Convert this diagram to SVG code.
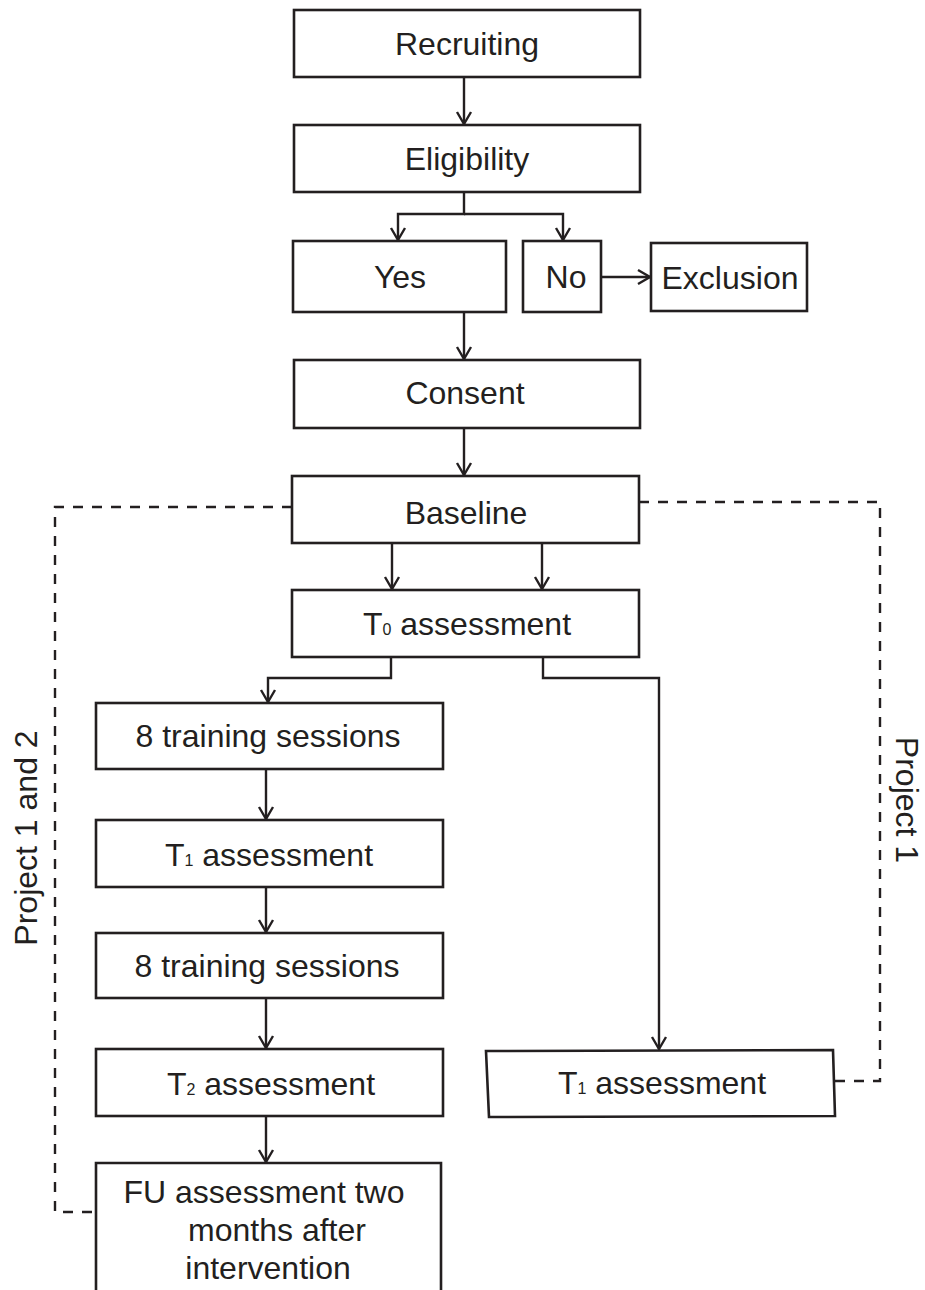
<svg xmlns="http://www.w3.org/2000/svg" width="925" height="1290" viewBox="0 0 925 1290">
<defs>
<style>
.box{fill:#fff;stroke:#231f20;stroke-width:2.6}
.t{font-family:"Liberation Sans",Arial,sans-serif;font-size:32px;fill:#231f20;text-anchor:middle}
.c{fill:none;stroke:#231f20;stroke-width:2.4}
.d{fill:none;stroke:#231f20;stroke-width:2.4;stroke-dasharray:10 9}
.sub{font-size:16px}
</style>
<marker id="a" markerUnits="userSpaceOnUse" markerWidth="18" markerHeight="18" viewBox="0 0 18 18" refX="16" refY="9" orient="auto">
<path d="M4,2 L16,9 L4,16" fill="none" stroke="#231f20" stroke-width="2.4"/>
</marker>
</defs>
<g id="connectors">
<path class="c" d="M464,77 V124" marker-end="url(#a)"/>
<path class="c" d="M464,192 V214 H398 V240" marker-end="url(#a)"/>
<path class="c" d="M464,214 H563 V240" marker-end="url(#a)"/>
<path class="c" d="M601,277 H650" marker-end="url(#a)"/>
<path class="c" d="M464,312 V359" marker-end="url(#a)"/>
<path class="c" d="M464,428 V475" marker-end="url(#a)"/>
<path class="c" d="M392,543 V589" marker-end="url(#a)"/>
<path class="c" d="M542,543 V589" marker-end="url(#a)"/>
<path class="c" d="M391,657 V678 H268 V702" marker-end="url(#a)"/>
<path class="c" d="M543,657 V678 H659 V1049" marker-end="url(#a)"/>
<path class="c" d="M266,769 V819" marker-end="url(#a)"/>
<path class="c" d="M266,887 V932" marker-end="url(#a)"/>
<path class="c" d="M266,998 V1048" marker-end="url(#a)"/>
<path class="c" d="M266,1116 V1162" marker-end="url(#a)"/>
<path class="d" d="M292,507 H55 V1212 H96"/>
<path class="d" d="M639,502 H880 V1081 H834"/>
</g>
<g id="recruiting"><rect class="box" x="294" y="10" width="346" height="67"/><text class="t" x="467" y="55">Recruiting</text></g>
<g id="eligibility"><rect class="box" x="294" y="125" width="346" height="67"/><text class="t" x="467" y="170">Eligibility</text></g>
<g id="yes"><rect class="box" x="293" y="241" width="213" height="71"/><text class="t" x="400" y="288">Yes</text></g>
<g id="no"><rect class="box" x="523" y="241" width="78" height="71"/><text class="t" x="566" y="288">No</text></g>
<g id="exclusion"><rect class="box" x="651" y="243" width="156" height="68"/><text class="t" x="730" y="289">Exclusion</text></g>
<g id="consent"><rect class="box" x="294" y="360" width="346" height="68"/><text class="t" x="465" y="404">Consent</text></g>
<g id="baseline"><rect class="box" x="292" y="476" width="347" height="67"/><text class="t" x="466" y="524">Baseline</text></g>
<g id="t0"><rect class="box" x="292" y="590" width="347" height="67"/><text class="t" x="467" y="635">T<tspan class="sub">0</tspan> assessment</text></g>
<g id="train1"><rect class="box" x="96" y="703" width="347" height="66"/><text class="t" x="268" y="747">8 training sessions</text></g>
<g id="t1left"><rect class="box" x="96" y="820" width="347" height="67"/><text class="t" x="269" y="866">T<tspan class="sub">1</tspan> assessment</text></g>
<g id="train2"><rect class="box" x="96" y="933" width="347" height="65"/><text class="t" x="267" y="977">8 training sessions</text></g>
<g id="t2"><rect class="box" x="96" y="1049" width="347" height="67"/><text class="t" x="271" y="1095">T<tspan class="sub">2</tspan> assessment</text></g>
<g id="fu"><path class="box" d="M96,1295 V1163 H441 V1295"/>
<text class="t" x="264" y="1203">FU assessment two</text>
<text class="t" x="277" y="1241">months after</text>
<text class="t" x="268" y="1279">intervention</text></g>
<g id="t1right"><polygon class="box" points="486,1051 833,1050 835,1116 489,1117"/><text class="t" x="662" y="1094">T<tspan class="sub">1</tspan> assessment</text></g>
<text class="t" transform="translate(37,838) rotate(-90)">Project 1 and 2</text>
<text class="t" transform="translate(896,800) rotate(90)">Project 1</text>
</svg>
